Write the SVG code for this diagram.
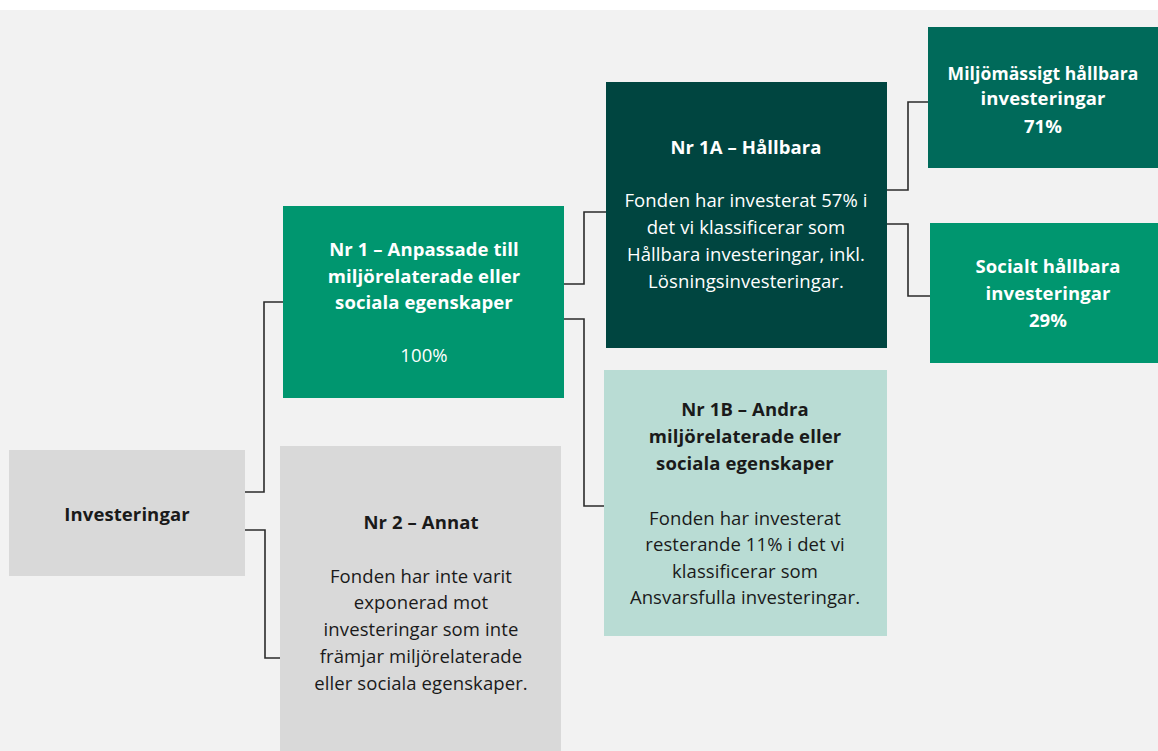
<svg xmlns="http://www.w3.org/2000/svg" width="1158" height="751" viewBox="0 0 1158 751">
<defs>
<style>
.t{font-family:"Open Sans","Liberation Sans","DejaVu Sans",sans-serif;font-size:18.5px;letter-spacing:0.1px;text-anchor:middle}
.s{font-size:17.5px}
.b{font-weight:bold}
.w{fill:#ffffff}
.k{fill:#1a1a1a}
.c{fill:none;stroke:#2b2b2b;stroke-width:1.6}
</style>
</defs>
<rect x="0" y="0" width="1158" height="751" fill="#ffffff"/>
<rect x="0" y="10" width="1158" height="741" fill="#f2f2f2"/>
<g id="connectors">
<polyline class="c" points="245,492 264,492 264,302 283,302"/>
<polyline class="c" points="245,530 265,530 265,658 280,658"/>
<polyline class="c" points="564,284 584,284 584,212 606,212"/>
<polyline class="c" points="564,319 584,319 584,506 604,506"/>
<polyline class="c" points="887,190 908,190 908,102 928,102"/>
<polyline class="c" points="887,224 908,224 908,296 930,296"/>
</g>
<g id="investeringar">
<rect x="9" y="450" width="236" height="126" fill="#d9d9d9"/>
<text class="t b k" x="127" y="521">Investeringar</text>
</g>
<g id="nr1">
<rect x="283" y="206" width="281" height="192" fill="#00966f"/>
<text class="t b w" x="424" y="256">Nr 1 – Anpassade till</text>
<text class="t b w" x="424" y="283">miljörelaterade eller</text>
<text class="t b w" x="424" y="309">sociala egenskaper</text>
<text class="t w" x="424" y="362">100%</text>
</g>
<g id="nr2">
<rect x="280" y="446" width="281" height="305" fill="#d9d9d9"/>
<text class="t b k" x="421" y="529">Nr 2 – Annat</text>
<text class="t k" x="421" y="583">Fonden har inte varit</text>
<text class="t k" x="421" y="609">exponerad mot</text>
<text class="t k" x="421" y="636">investeringar som inte</text>
<text class="t k" x="421" y="663">främjar miljörelaterade</text>
<text class="t k" x="421" y="690">eller sociala egenskaper.</text>
</g>
<g id="nr1a">
<rect x="606" y="82" width="281" height="266" fill="#004540"/>
<text class="t b w" x="746" y="154">Nr 1A – Hållbara</text>
<text class="t w" x="746" y="207">Fonden har investerat 57% i</text>
<text class="t w" x="746" y="234">det vi klassificerar som</text>
<text class="t w" x="746" y="261">Hållbara investeringar, inkl.</text>
<text class="t w" x="746" y="288">Lösningsinvesteringar.</text>
</g>
<g id="nr1b">
<rect x="604" y="370" width="283" height="266" fill="#b9dcd4"/>
<text class="t b k" x="745" y="416">Nr 1B – Andra</text>
<text class="t b k" x="745" y="443">miljörelaterade eller</text>
<text class="t b k" x="745" y="470">sociala egenskaper</text>
<text class="t k" x="745" y="525">Fonden har investerat</text>
<text class="t k" x="745" y="551">resterande 11% i det vi</text>
<text class="t k" x="745" y="578">klassificerar som</text>
<text class="t k" x="745" y="604">Ansvarsfulla investeringar.</text>
</g>
<g id="miljo">
<rect x="928" y="27" width="230" height="141" fill="#006a5a"/>
<text class="t s b w" x="1043" y="80">Miljömässigt hållbara</text>
<text class="t b w" x="1043" y="105">investeringar</text>
<text class="t b w" x="1043" y="133">71%</text>
</g>
<g id="socialt">
<rect x="930" y="223" width="228" height="140" fill="#00966f"/>
<text class="t b w" x="1048" y="273">Socialt hållbara</text>
<text class="t b w" x="1048" y="300">investeringar</text>
<text class="t b w" x="1048" y="327">29%</text>
</g>
</svg>
